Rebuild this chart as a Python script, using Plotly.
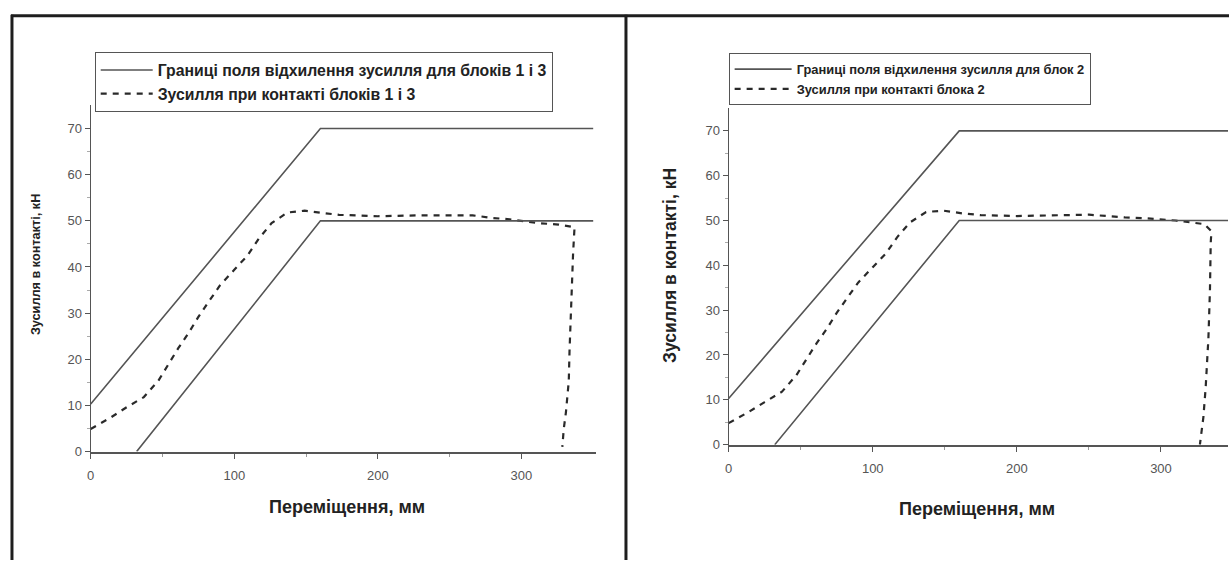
import plotly.graph_objects as go

W, H = 1229, 568

# ---- data: panel 1 (blocks 1 and 3) ----
upper1_x = [0, 160, 350]
upper1_y = [10.3, 70, 70]
lower1_x = [32, 160, 350]
lower1_y = [0, 50, 50]
force1_x = [0, 14, 25, 37, 47, 54, 61, 68, 75, 82, 90, 100, 109, 117, 126, 137, 149, 162,
            173, 200, 230, 266, 280, 290, 312, 326, 337, 336, 335, 333.5, 333, 332, 331, 329.5, 328.5]
force1_y = [4.9, 7.4, 9.6, 11.8, 15.3, 19, 22.4, 25.6, 29.2, 32.4, 36, 39.4, 42.4, 46.1, 49.5, 51.8, 52.2, 51.7,
            51.3, 51.0, 51.2, 51.2, 50.6, 50.4, 49.5, 49.2, 48.6, 43, 35.6, 21.7, 15.3, 11.8, 8.5, 4.9, 1]

# ---- data: panel 2 (block 2) ----
upper2_x = [0, 160, 350]
upper2_y = [10.3, 70, 70]
lower2_x = [32, 160, 350]
lower2_y = [0, 50, 50]
force2_x = [0, 14, 25, 37, 47, 54, 61, 68, 75, 82, 90, 100, 109, 117, 126, 137, 149, 162,
            175, 200, 230, 250, 275, 290, 310, 330, 335, 334.5, 334, 332.9, 331, 329.4, 327]
force2_y = [4.8, 7.3, 9.5, 11.8, 15.5, 19.2, 22.6, 25.8, 29.4, 32.6, 36.2, 39.6, 42.6, 46.3, 49.6, 51.9, 52.2, 51.6,
            51.2, 51.0, 51.1, 51.3, 50.7, 50.5, 50.0, 49.2, 47.6, 45, 34.8, 23.7, 12.7, 6.1, 0]

legend1_bound = "Границі поля відхилення зусилля для блоків 1 і 3"
legend1_force = "Зусилля при контакті блоків 1 і 3"
legend2_bound = "Границі поля відхилення зусилля для блок 2"
legend2_force = "Зусилля при контакті блока 2"
x_title = "Переміщення, мм"
y_title = "Зусилля в контакті, кН"

x_ticks = [0, 100, 200, 300]
y_ticks = [0, 10, 20, 30, 40, 50, 60, 70]

SOLID = dict(color="#555555", width=1.6)
DASHED = dict(color="#2a2a2a", width=2.2, dash="6px,6px")
FONT = "Liberation Sans, Arial, sans-serif"

fig = go.Figure()


def add_panel(xa, ya, leg, ux, uy, lx, ly, fx, fy, bound_name, force_name):
    fig.add_trace(go.Scatter(x=ux, y=uy, mode="lines", line=SOLID, name=bound_name,
                             legendgroup=leg + "b", legend=leg, xaxis=xa, yaxis=ya))
    fig.add_trace(go.Scatter(x=fx, y=fy, mode="lines", line=DASHED, name=force_name,
                             legendgroup=leg + "f", legend=leg, xaxis=xa, yaxis=ya))
    fig.add_trace(go.Scatter(x=lx, y=ly, mode="lines", line=SOLID, name=bound_name,
                             legendgroup=leg + "b", legend=leg, showlegend=False,
                             xaxis=xa, yaxis=ya))


add_panel("x", "y", "legend", upper1_x, upper1_y, lower1_x, lower1_y, force1_x, force1_y,
          legend1_bound, legend1_force)
add_panel("x2", "y2", "legend2", upper2_x, upper2_y, lower2_x, lower2_y, force2_x, force2_y,
          legend2_bound, legend2_force)


def px(x):
    return x / W


def py(y):
    return 1 - y / H


axis_common = dict(showgrid=False, zeroline=False, showline=True, linecolor="#555555",
                   ticks="outside", ticklen=5, tickwidth=1, tickcolor="#555555",
                   tickfont=dict(family=FONT, size=13, color="#555555"),
                   fixedrange=True)

xa_common = dict(axis_common, tickvals=x_ticks, linewidth=2, ticklabelstandoff=6,
                 minor=dict(tickvals=[50, 150, 250], ticks="outside", ticklen=3,
                            tickcolor="#999999"))
ya_common = dict(axis_common, tickvals=y_ticks, linewidth=1.2,
                 minor=dict(tickvals=[5, 15, 25, 35, 45, 55, 65], ticks="outside",
                            ticklen=3, tickcolor="#aaaaaa"))

legend_common = dict(bgcolor="white", bordercolor="#555555", borderwidth=1,
                     xanchor="left", yanchor="top", tracegroupgap=0,
                     itemclick=False, itemdoubleclick=False)

fig.update_layout(
    width=W, height=H, autosize=False,
    margin=dict(l=0, r=0, t=0, b=0),
    paper_bgcolor="white", plot_bgcolor="white",
    xaxis=dict(xa_common, domain=[px(87), px(594)], range=[0, 352], anchor="y"),
    yaxis=dict(ya_common, domain=[py(458), py(107)], range=[0, 75], anchor="x"),
    xaxis2=dict(xa_common, domain=[px(727), px(1228)], range=[0, 346.5], anchor="y2"),
    yaxis2=dict(ya_common, domain=[py(451), py(110)], range=[0, 75], anchor="x2"),
    legend=dict(legend_common, x=px(91), y=py(53), itemwidth=52,
                font=dict(family=FONT, size=15.8, color="#222222", weight="bold")),
    legend2=dict(legend_common, x=px(727), y=py(54), itemwidth=57,
                 font=dict(family=FONT, size=12.9, color="#222222", weight="bold")),
    showlegend=True,
)

x_title_font = dict(family=FONT, size=18, color="#222222", weight="bold")
y1_title_font = dict(family=FONT, size=12.7, color="#222222", weight="bold")
y2_title_font = dict(family=FONT, size=17.5, color="#222222", weight="bold")
for (x, y, text, angle, f) in [(344, 514, x_title, 0, x_title_font),
                               (976, 516, x_title, 0, x_title_font),
                               (32, 268, y_title, -90, y1_title_font),
                               (668, 269, y_title, -90, y2_title_font)]:
    fig.add_annotation(x=px(x), y=py(y), xref="paper", yref="paper", text=text,
                       textangle=angle, showarrow=False, font=f,
                       xanchor="center", yanchor="middle")

# panel frames
frame = dict(color="#1e1e1e", width=3)
fig.add_shape(type="line", xref="paper", yref="paper", x0=px(7), x1=1, y0=py(16), y1=py(16), line=frame)
fig.add_shape(type="line", xref="paper", yref="paper", x0=px(8), x1=px(8), y0=py(15), y1=0, line=frame)
fig.add_shape(type="line", xref="paper", yref="paper", x0=px(624), x1=px(624), y0=py(15), y1=0, line=frame)

fig.write_html("out.html")
